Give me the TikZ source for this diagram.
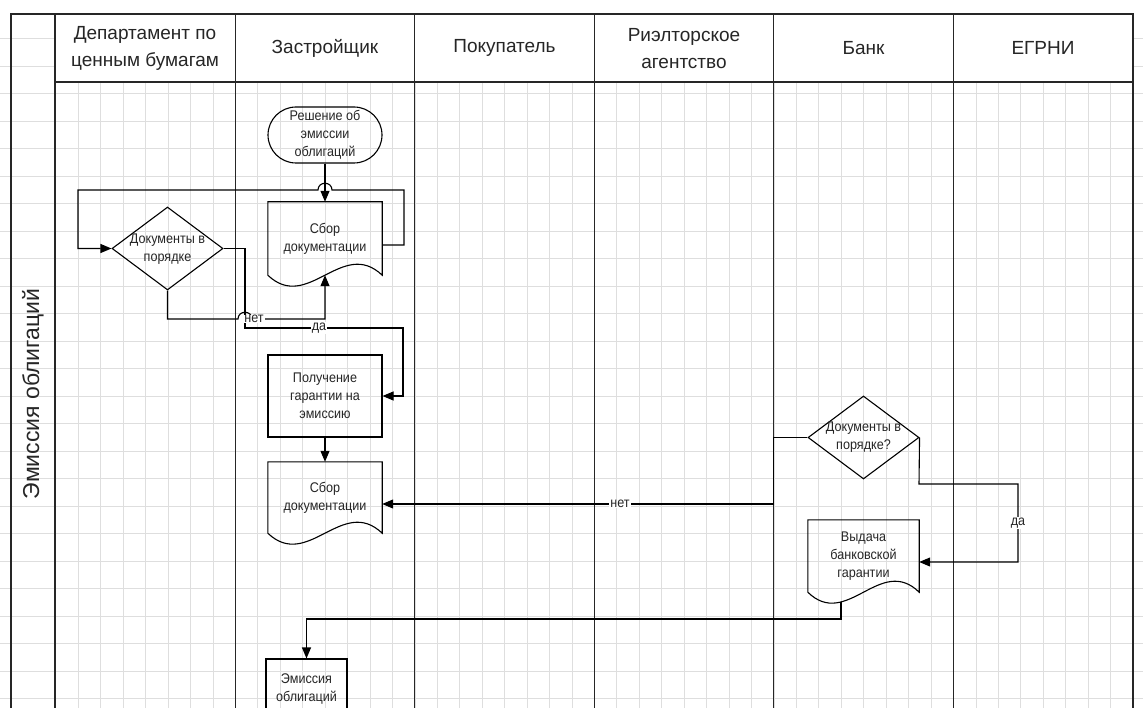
\documentclass[tikz,border=0pt]{standalone}
\usepackage{fontspec}
\setmainfont{Liberation Sans}
\newfontfamily\bodyfont{Liberation Sans}[FakeStretch=0.9]
\usetikzlibrary{arrows.meta,calc,shapes.geometric}
\begin{document}
\begin{tikzpicture}[x=1pt,y=-1pt,
  gridl/.style={draw=black!13, line width=0.8pt},
  ln/.style={line width=1.1pt, draw=black!85},
  conn/.style={line width=1.1pt, draw=black},
  arr/.style={conn, -{Triangle[length=11pt,width=9pt]}},
  hdr/.style={font=\fontsize{19}{27}\selectfont, align=center, inner sep=0pt, text=black!85},
  txt/.style={font=\bodyfont\fontsize{14}{18}\selectfont, align=center, inner sep=0pt, text=black!85},
  termbox/.style={txt, draw, line width=1.1pt, rounded corners=28pt, minimum width=114pt, minimum height=56pt},
  procbox/.style={txt, draw, line width=1.1pt, minimum width=114pt, minimum height=82pt},
  docbox/.style={txt, minimum width=114pt},
  decbox/.style={draw, diamond, line width=1.1pt, minimum width=111pt, minimum height=83pt, inner sep=0pt},
  lbl/.style={txt, fill=white, inner xsep=1pt, inner ysep=0.5pt},
]
\useasboundingbox (0,0) rectangle (1143,708);
\clip (0,0) rectangle (1143,708);
\fill[white] (0,0) rectangle (1143,708);
% grid
\foreach \i in {1,...,26} \draw[gridl] (0,{11+27.5*\i}) -- (1143,{11+27.5*\i});
\foreach \i in {3,...,49} \draw[gridl] ({11+22.44*\i},82) -- ({11+22.44*\i},720);
\fill[white] (55,14) rectangle (1133,82);
% frame
\draw[ln] (11,720) -- (11,14) -- (1133,14) -- (1133,720);
\draw[ln] (55,14) -- (55,720);
\draw[ln] (55,82) -- (1133,82);
\foreach \x in {235.4,414.9,594.4,773.9,953.5} \draw[ln] (\x,14) -- (\x,720);
% headers
\node[hdr] (h1) at (145,48.5) {Департамент по\\ценным бумагам};
\node[hdr] (h2) at (325,48) {Застройщик};
\node[hdr] (h3) at (504.5,48) {Покупатель};
\node[hdr] (h4) at (684,48.5) {Риэлторское\\агентство};
\node[hdr] (h5) at (863.5,48) {Банк};
\node[hdr] (h6) at (1043,48) {ЕГРНИ};
\node[rotate=90, font=\fontsize{23}{27}\selectfont, text=black!85, inner sep=0pt] (title) at (33,394) {Эмиссия облигаций};
% nodes
\node[termbox] (start) at (325,135) {Решение об\\эмиссии\\облигаций};
\node[docbox, minimum height=73pt] (doc1) at (325,238.5) {Сбор\\документации};
\node[decbox] (dec1) at (167.5,248.5) {};
\node[txt] (dec1t) at (167.5,249) {Документы в\\порядке};
\node[procbox] (get) at (325,396) {Получение\\гарантии на\\эмиссию};
\node[docbox, minimum height=71pt] (doc2) at (325,497.5) {Сбор\\документации};
\node[decbox] (dec2) at (863.5,437.5) {};
\node[txt] (dec2t) at (863.5,437.5) {Документы в\\порядке?};
\node[docbox, minimum width=111pt, minimum height=72pt] (doc3) at (863.5,556) {Выдача\\банковской\\гарантии};
\node[procbox, minimum width=81pt, minimum height=60pt] (emis) at (306.5,689) {Эмиссия\\облигаций};
% document outlines
\foreach \d/\c in {doc1/40,doc2/40,doc3/39}{
  \draw[conn] (\d.north west) -- (\d.north east) -- (\d.south east)
    .. controls ($(\d.south east)+(-\c,-38)$) and ($(\d.south west)+(\c,38)$) .. (\d.south west) -- cycle;
}
% coordinates
\coordinate (loopA) at (404,245);
\coordinate (loopB) at (404,190);
\coordinate (hopR) at (332,190);
\coordinate (hopL) at (318,190);
\coordinate (loopC) at (78,190);
\coordinate (noA) at (167.5,319);
\coordinate (noHL) at (238,319);
\coordinate (noHR) at (252,319);
\coordinate (noB) at (325,319);
\coordinate (yesA) at (245,248.5);
\coordinate (yesB) at (245,328);
\coordinate (yesC) at (403,328);
\coordinate (n2a) at (773.9,437.5);
\coordinate (n2b) at (773.9,504);
\coordinate (y2a) at (919,484);
\coordinate (y2b) at (1018,484);
\coordinate (y2c) at (1018,562);
\coordinate (d3out) at (841,601.5);
\coordinate (fin) at (841,619);
% connectors
\draw[arr] (start) -- (doc1);
\draw[arr] (doc1.east |- loopA) -- (loopA) -- (loopB) -- (hopR)
  .. controls ($(hopR)+(0,-9)$) and ($(hopL)+(0,-9)$) .. (hopL) -- (loopC) |- (dec1.west);
\draw[arr] (dec1.south) -- (noA) -- (noHL)
  .. controls ($(noHL)+(0,-9)$) and ($(noHR)+(0,-9)$) .. (noHR) -- (noB) -- (doc1.south);
\draw[arr] (dec1.east) -- (yesA) -- (yesB) -- (yesC) |- (get.east);
\draw[arr] (get) -- (doc2);
\draw[arr] (dec2.west) -- (n2a) -- (n2b) -- (doc2.east |- n2b);
\draw[arr] (dec2.east) -- (y2a) -- (y2b) -- (y2c) -- (doc3.east |- y2c);
\draw[arr] (d3out) -- (fin) -| (emis.north);
% labels
\node[lbl] (l1) at (254,319) {нет};
\node[lbl] (l2) at (319,328) {да};
\node[lbl] (l3) at (620,504) {нет};
\node[lbl] (l4) at (1018,523) {да};
\end{tikzpicture}
\end{document}
